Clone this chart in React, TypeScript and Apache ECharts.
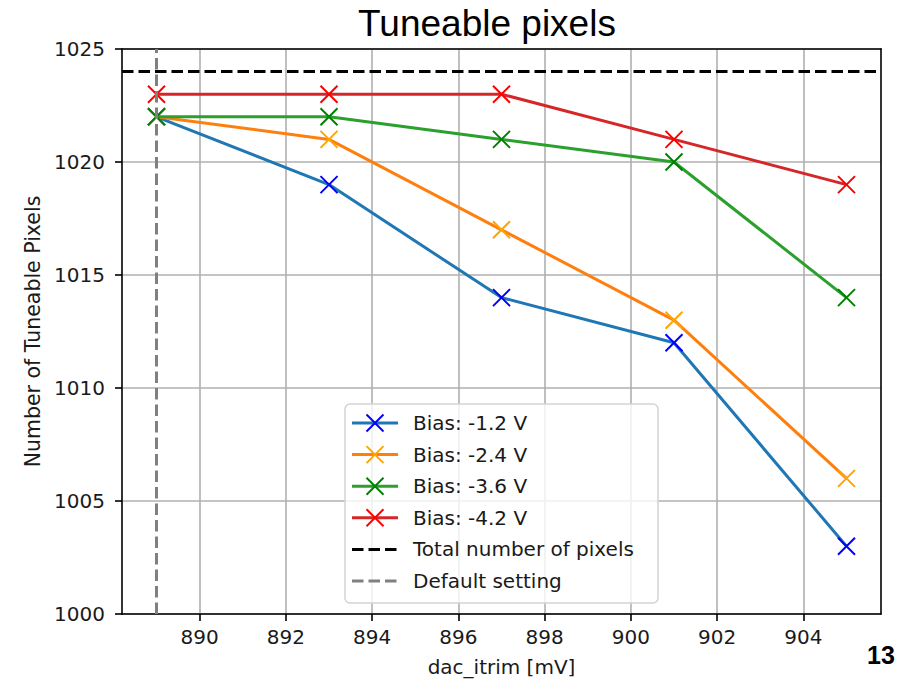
import React, { useEffect, useRef } from "react";
import * as echarts from "echarts";

// Measured tuneable pixel counts per trim DAC setting
const dacItrim = [889, 893, 897, 901, 905];
const biasM12 = [1022, 1019, 1014, 1012, 1003];
const biasM24 = [1022, 1021, 1017, 1013, 1006];
const biasM36 = [1022, 1022, 1021, 1020, 1014];
const biasM42 = [1023, 1023, 1023, 1021, 1019];

const totalPixels = 1024;
const defaultSetting = 889;

const xTicks = [890, 892, 894, 896, 898, 900, 902, 904];
const yTicks = [1000, 1005, 1010, 1015, 1020, 1025];

const seriesDefs = [
  { name: "Bias: -1.2 V", values: biasM12, line: "#1f77b4", marker: "#0000ff" },
  { name: "Bias: -2.4 V", values: biasM24, line: "#ff7f0e", marker: "#ffa500" },
  { name: "Bias: -3.6 V", values: biasM36, line: "#2ca02c", marker: "#008000" },
  { name: "Bias: -4.2 V", values: biasM42, line: "#d62728", marker: "#ff0000" },
];
const totalLabel = "Total number of pixels";
const defaultLabel = "Default setting";

const FONT = "DejaVu Sans";
const TEXT = "#1a1a1a";
const X_PATH = "path://M0,0L10,10M0,10L10,0";
const DASH = [11.5, 5];
const LEGEND_Z = 100;

export default function App() {
  const ref = useRef<HTMLDivElement>(null);

  useEffect(() => {
    if (!ref.current) return;
    const chart = echarts.init(ref.current, undefined, { renderer: "svg" });

    const lineSeries = seriesDefs.map((s) => ({
      type: "line",
      name: s.name,
      data: dacItrim.map((x, i) => [x, s.values[i]]),
      symbol: X_PATH,
      symbolSize: 17,
      symbolKeepAspect: true,
      showAllSymbol: true,
      lineStyle: { color: s.line, width: 3 },
      itemStyle: { color: "transparent", borderColor: s.marker, borderWidth: 2 },
      emphasis: { disabled: true },
      silent: true,
    }));

    // Reference lines: total pixel count and default DAC setting
    const refSeries = {
      type: "line",
      data: [],
      silent: true,
      z: 5,
      markLine: {
        silent: true,
        symbol: ["none", "none"],
        label: { show: false },
        emphasis: { disabled: true },
        data: [
          { yAxis: totalPixels, lineStyle: { color: "#000000", width: 3, type: DASH } },
          { xAxis: defaultSetting, lineStyle: { color: "#808080", width: 3, type: DASH } },
        ],
      },
    };

    // Legend drawn as a framed box above the plot
    const lx0 = 352;
    const lx1 = 398;
    const lmx = (lx0 + lx1) / 2;
    const textX = 413;
    const row0 = 423;
    const step = 31.6;
    const legendItems: any[] = [
      {
        type: "rect",
        z: LEGEND_Z,
        shape: { x: 345, y: 404, width: 313, height: 199, r: 5 },
        style: { fill: "rgba(255,255,255,0.8)", stroke: "#d3d3d3", lineWidth: 1.5 },
      },
    ];
    const legendText = (label: string, y: number) => ({
      type: "text",
      z: LEGEND_Z + 1,
      x: textX,
      y,
      style: { text: label, font: `20px '${FONT}'`, fill: TEXT, verticalAlign: "middle" },
    });
    seriesDefs.forEach((s, i) => {
      const y = row0 + i * step;
      legendItems.push({
        type: "line",
        z: LEGEND_Z + 1,
        shape: { x1: lx0, y1: y, x2: lx1, y2: y },
        style: { stroke: s.line, lineWidth: 3 },
      });
      legendItems.push({
        type: "line",
        z: LEGEND_Z + 2,
        shape: { x1: lmx - 8.5, y1: y - 8.5, x2: lmx + 8.5, y2: y + 8.5 },
        style: { stroke: s.marker, lineWidth: 2 },
      });
      legendItems.push({
        type: "line",
        z: LEGEND_Z + 2,
        shape: { x1: lmx - 8.5, y1: y + 8.5, x2: lmx + 8.5, y2: y - 8.5 },
        style: { stroke: s.marker, lineWidth: 2 },
      });
      legendItems.push(legendText(s.name, y));
    });
    [
      { label: totalLabel, color: "#000000" },
      { label: defaultLabel, color: "#808080" },
    ].forEach((d, j) => {
      const y = row0 + (4 + j) * step;
      legendItems.push({
        type: "line",
        z: LEGEND_Z + 1,
        shape: { x1: lx0, y1: y, x2: lx1, y2: y },
        style: { stroke: d.color, lineWidth: 3, lineDash: DASH },
      });
      legendItems.push(legendText(d.label, y));
    });

    const axisBase = {
      axisLine: { show: true, onZero: false, lineStyle: { color: "#000", width: 1.6 } },
    };

    chart.setOption({
      animation: false,
      backgroundColor: "#ffffff",
      grid: {
        left: 122,
        right: 31,
        top: 49,
        bottom: 65,
        containLabel: false,
        outerBoundsMode: "none",
      },
      xAxis: [
        {
          type: "value",
          min: 888.2,
          max: 905.8,
          ...axisBase,
          axisTick: {
            show: true,
            customValues: xTicks,
            length: 7,
            lineStyle: { color: "#000", width: 1.6 },
          },
          axisLabel: {
            customValues: xTicks,
            margin: 13,
            color: TEXT,
            fontFamily: FONT,
            fontSize: 20,
            formatter: (v: number) => String(v),
          },
          splitLine: { show: true, lineStyle: { color: "#b0b0b0", width: 1.6 } },
          name: "dac_itrim [mV]",
          nameLocation: "middle",
          nameGap: 43,
          nameTextStyle: { color: TEXT, fontFamily: FONT, fontSize: 20 },
        },
        {
          type: "value",
          position: "top",
          min: 888.2,
          max: 905.8,
          ...axisBase,
          axisTick: { show: false },
          axisLabel: { show: false },
          splitLine: { show: false },
        },
      ],
      yAxis: [
        {
          type: "value",
          min: yTicks[0],
          max: yTicks[yTicks.length - 1],
          interval: 5,
          ...axisBase,
          axisTick: { show: true, length: 7, lineStyle: { color: "#000", width: 1.6 } },
          axisLabel: {
            margin: 17,
            color: TEXT,
            fontFamily: FONT,
            fontSize: 20,
            formatter: (v: number) => String(v),
          },
          splitLine: { show: true, lineStyle: { color: "#b0b0b0", width: 1.6 } },
          name: "Number of Tuneable Pixels",
          nameLocation: "middle",
          nameGap: 75,
          nameTextStyle: { color: TEXT, fontFamily: FONT, fontSize: 20.5 },
        },
        {
          type: "value",
          position: "right",
          min: yTicks[0],
          max: yTicks[yTicks.length - 1],
          ...axisBase,
          axisTick: { show: false },
          axisLabel: { show: false },
          splitLine: { show: false },
        },
      ],
      series: [...lineSeries, refSeries],
      graphic: [
        {
          type: "text",
          x: 487,
          y: 23,
          style: {
            text: "Tuneable pixels",
            font: "37px 'Liberation Sans'",
            fill: "#000",
            align: "center",
            verticalAlign: "middle",
          },
        },
        {
          type: "text",
          x: 881,
          y: 655,
          style: {
            text: "13",
            font: "bold 25px 'Liberation Sans'",
            fill: "#000",
            align: "center",
            verticalAlign: "middle",
          },
        },
        ...legendItems,
      ],
    });

    return () => chart.dispose();
  }, []);

  return (
    <div
      ref={ref}
      style={{ position: "absolute", left: 0, top: 0, width: 912, height: 679 }}
    />
  );
}
